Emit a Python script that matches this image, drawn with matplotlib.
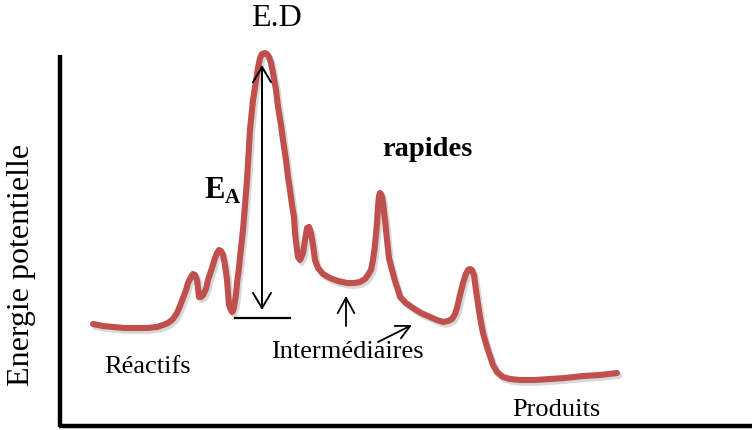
import matplotlib.pyplot as plt
import matplotlib.patheffects as pe

plt.rcParams['font.family'] = ['Liberation Serif', 'DejaVu Serif']

# energy profile (pixel coords, y pointing down)
curve_x = [93, 103, 113, 125, 137, 147, 157, 163, 168, 173, 177, 180, 183, 186, 188, 191,
           193, 195, 197, 198, 199, 201, 203, 206, 208, 212, 215, 217, 219, 221, 223, 225,
           227, 228, 229, 231, 232, 233, 234, 236, 237, 239, 240, 243, 247, 250, 253, 255,
           258, 260, 262, 265, 267, 269, 271, 273, 276, 278, 281, 283, 286, 288, 290, 292,
           294, 295, 297, 298, 300, 301, 303, 305, 307, 309, 311, 313, 315, 318, 323, 330,
           338, 347, 354, 360, 365, 368, 371, 373, 375, 377, 378, 379, 380, 381, 382, 383,
           385, 387, 389, 392, 395, 398, 400, 406, 413, 421, 430, 437, 443, 448, 452, 455,
           457, 460, 463, 466, 468, 470, 472, 474, 475, 477, 480, 483, 487, 490, 493, 497,
           503, 510, 520, 535, 550, 565, 583, 600, 617]
curve_y = [324, 326, 327, 328, 328, 328, 327, 325, 323, 319, 313, 306, 298, 290, 283, 277,
           274, 275, 280, 288, 297, 297, 295, 289, 280, 268, 258, 253, 250, 251, 255, 265,
           280, 293, 305, 310, 312, 311, 307, 295, 283, 268, 257, 230, 180, 130, 100, 87,
           68, 58, 54, 53, 54, 57, 63, 73, 90, 107, 125, 140, 160, 177, 190, 205,
           217, 233, 250, 257, 260, 258, 253, 240, 228, 227, 233, 245, 260, 268, 274, 278,
           281, 283, 283, 282, 279, 275, 270, 260, 245, 223, 207, 196, 193, 194, 197, 203,
           220, 240, 258, 270, 281, 290, 297, 303, 308, 313, 317, 320, 322, 321, 319, 314,
           308, 295, 283, 274, 270, 269, 270, 275, 283, 297, 317, 333, 347, 356, 365, 372,
           377, 379, 380, 380, 379, 378, 376, 375, 373]

labels = ["Réactifs", "Intermédiaires", "Produits"]
label_xy = [(148, 367), (347, 352), (556, 410)]

red = '#c0504d'
head = '->, head_width=0.6, head_length=1.1'

fig = plt.figure(figsize=(7.52, 4.30), dpi=100)
ax = fig.add_axes([0, 0, 1, 1])
ax.set_xlim(0, 752)
ax.set_ylim(430, 0)
ax.axis('off')

# axes drawn by hand, like the sketch
ax.plot([60, 60], [55, 427], color='black', lw=3.2, solid_capstyle='butt')
ax.plot([58.8, 752], [426, 426], color='black', lw=3.2, solid_capstyle='butt')

ax.plot(curve_x, curve_y, color=red, lw=4.4, solid_capstyle='round', solid_joinstyle='round',
        path_effects=[pe.SimpleLineShadow(offset=(1.5, -2), shadow_color='gray', alpha=0.3),
                      pe.Normal()])

# activation energy arrow + baseline
ax.annotate('', xy=(262, 65), xytext=(262, 310),
            arrowprops=dict(arrowstyle='<->, head_width=0.65, head_length=1.1',
                            color='black', lw=1.4, shrinkA=0, shrinkB=0))
ax.plot([235, 290], [318, 318], color='black', lw=1.6)

# arrows pointing at the intermediates
ax.annotate('', xy=(346, 296), xytext=(346, 326),
            arrowprops=dict(arrowstyle=head, color='black', lw=1.3, shrinkA=0, shrinkB=0))
ax.annotate('', xy=(412, 325), xytext=(378, 342),
            arrowprops=dict(arrowstyle='->, head_width=0.5, head_length=1.0',
                            color='black', lw=1.3, shrinkA=0, shrinkB=0))

ax.text(276, 18, "E.D", fontsize=23, ha='center', va='center')
ax.text(204, 198, "E", fontsize=22, fontweight='bold', ha='left', va='baseline')
ax.text(225, 203, "A", fontsize=15, fontweight='bold', ha='left', va='baseline')
ax.text(427, 150, "rapides", fontsize=20.5, fontweight='bold', ha='center', va='center')
ax.text(22, 265, "Energie potentielle", fontsize=23, rotation=90, ha='center', va='center')

for lab, (x, y) in zip(labels, label_xy):
    ax.text(x, y, lab, fontsize=19, ha='center', va='center')

fig.savefig('out.png', dpi=100)
